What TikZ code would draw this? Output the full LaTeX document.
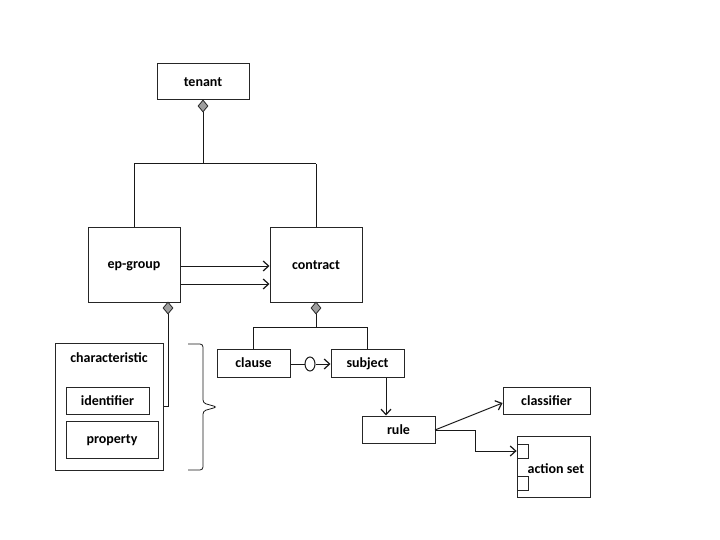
\documentclass[tikz,border=0pt]{standalone}
\usepackage{fontspec}
\setmainfont{Carlito}
\usetikzlibrary{shapes.geometric,arrows.meta}
\tikzset{
  lbl/.style={font=\bfseries\fontsize{14}{16}\selectfont, text depth=0pt},
  box/.style={draw=black!85, line width=1pt, fill=white, lbl, inner sep=0pt},
  agg/.style={diamond, draw=black!85, fill=black!38, line width=0.8pt, minimum width=10pt, minimum height=12pt, inner sep=0pt, aspect=0.83},
  conn/.style={line width=1pt, draw=black!90},
  arr/.style={conn, -{Straight Barb[length=5.5pt,width=10pt,line width=1.2pt]}},
  sq/.style={draw=black!85, line width=0.8pt, minimum width=11pt, minimum height=14pt, inner sep=0pt},
}
\begin{document}
\begin{tikzpicture}[x=1pt,y=-1pt]
\useasboundingbox[fill=white] (0,0) rectangle (720,540);
% nodes
\node[box, minimum width=92pt, minimum height=36pt] (tenant) at (203,82) {tenant};
\node[box, minimum width=92pt, minimum height=74pt] (epgroup) at (134,265) {ep-group};
\node[box, minimum width=92pt, minimum height=74pt] (contract) at (316,265) {contract};
\node[box, minimum width=108pt, minimum height=127pt] (charbox) at (109,406.5) {};
\node[lbl] (chartext) at (109,358) {characteristic};
\node[box, minimum width=83pt, minimum height=27pt] (identifier) at (107.5,400.5) {identifier};
\node[box, minimum width=92pt, minimum height=37pt] (property) at (112,439.5) {property};
\node[box, minimum width=73pt, minimum height=28pt] (clause) at (253.5,363) {clause};
\node[box, minimum width=73pt, minimum height=28pt] (subject) at (367.5,363) {subject};
\node[box, minimum width=73pt, minimum height=27pt] (rule) at (398.5,429.5) {rule};
\node[box, minimum width=87pt, minimum height=27pt] (classifier) at (546.5,400.5) {classifier};
\node[box, minimum width=73pt, minimum height=61pt] (actionset) at (553.5,466.5) {};
\node[lbl] (astext) at (556,469) {action set};
\node[sq] (sqa) at (522.5,451) {};
\node[sq] (sqb) at (522.5,483) {};
% aggregation diamonds
\node[agg] (dtenant) at (203,106) {};
\node[agg] (dep) at (168,308) {};
\node[agg] (dcon) at (316,308) {};
% tenant tree
\coordinate (tj) at (203,164);
\draw[conn] (dtenant.south) -- (tj);
\draw[conn] (epgroup.north |- tj) -- (contract.north |- tj);
\draw[conn] (epgroup.north |- tj) -- (epgroup.north);
\draw[conn] (contract.north |- tj) -- (contract.north);
% ep-group to contract
\draw[arr] (epgroup.east |- 0,266) -- (contract.west |- 0,266);
\draw[arr] (epgroup.east |- 0,284) -- (contract.west |- 0,284);
% ep-group to characteristic
\coordinate (ec) at (168,406);
\draw[conn] (dep.south) -- (ec) -- (charbox.east |- ec);
% contract tree
\coordinate (cj) at (316,327);
\coordinate (cjl) at (253.5,327);
\coordinate (cjr) at (367.5,327);
\draw[conn] (dcon.south) -- (cj);
\draw[conn] (clause.north) -- (cjl) -- (cjr) -- (subject.north);
% clause to subject
\node[ellipse, draw=black!90, line width=1pt, fill=white, minimum width=10pt, minimum height=14pt, inner sep=0pt] (ell) at (310,364) {};
\draw[conn] (clause.east |- ell) -- (ell.west);
\draw[arr] (ell.east) -- (subject.west |- ell);
% subject to rule
\draw[arr] (subject.south -| 386,0) -- (rule.north -| 386,0);
% rule to classifier / action set
\coordinate (rs) at (435,430);
\draw[arr] (rs) -- (classifier.west |- 0,403);
\draw[arr] (rs) -- (475,430) -- (475,451) -- (sqa.west);
% brace
\draw[conn, line width=0.8pt, rounded corners=3pt] (188,344) -- (203,344) -- (203,403) -- (217,407) -- (203,411) -- (203,470) -- (188,470);
\end{tikzpicture}
\end{document}
